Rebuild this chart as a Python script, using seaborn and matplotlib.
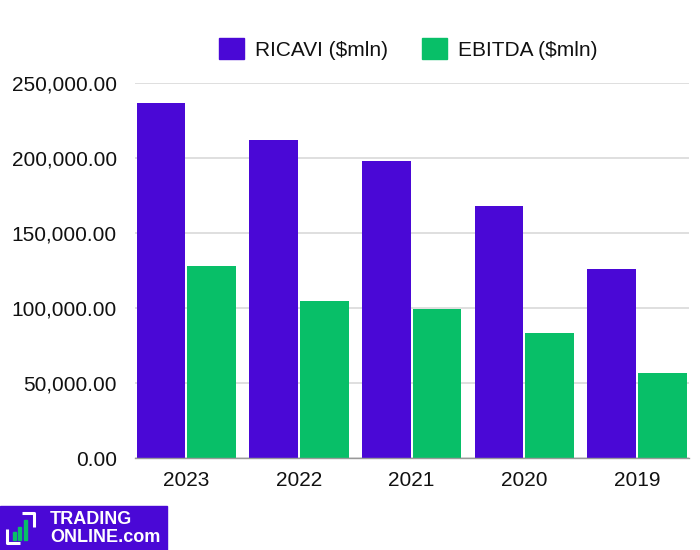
import numpy as np
import pandas as pd
import matplotlib
matplotlib.use('Agg')
import matplotlib.pyplot as plt
import seaborn as sns
from matplotlib.ticker import FuncFormatter
from matplotlib.patches import Rectangle

# Data
years = ['2023', '2022', '2021', '2020', '2019']
ricavi = [236300, 211600, 197800, 167600, 125600]
ebitda = [127600, 104700, 99100, 83100, 56900]
series_names = ['RICAVI ($mln)', 'EBITDA ($mln)']
colors = ['#4a08d6', '#08bf68']

df = pd.DataFrame({
    'Anno': years * 2,
    'Serie': [series_names[0]] * len(years) + [series_names[1]] * len(years),
    'Valore': ricavi + ebitda,
})

sns.set_theme(style='white')
plt.rcParams['font.family'] = ['Liberation Sans', 'DejaVu Sans']

fig = plt.figure(figsize=(7, 5.5), dpi=100)
ax = fig.add_axes([135 / 700, 1 - 458 / 550, 554 / 700, (458 - 82.5) / 550])

sns.barplot(data=df, x='Anno', y='Valore', hue='Serie', order=years,
            hue_order=series_names, palette=colors, width=0.9, gap=0.045,
            linewidth=0, saturation=1, ax=ax)

ax.set_ylim(0, 250000)
ax.set_xlim(-0.455, 4.461)
ax.set_yticks(np.arange(0, 250001, 50000))
ax.yaxis.set_major_formatter(FuncFormatter(lambda v, p: f'{v:,.2f}'))
ax.set_xlabel('')
ax.set_ylabel('')
ax.grid(axis='y', color='#d9d9d9', linewidth=1.2)
ax.set_axisbelow(True)
for s in ['top', 'right', 'left']:
    ax.spines[s].set_visible(False)
ax.spines['bottom'].set_color('#999999')
ax.spines['bottom'].set_linewidth(1.0)
ax.tick_params(axis='both', length=0, labelsize=15, colors='#111111')
ax.tick_params(axis='y', pad=13)
ax.tick_params(axis='x', pad=9)

# legend on top
ax.get_legend().remove()
handles = [Rectangle((0, 0), 1, 1, color=c) for c in colors]
fig.legend(handles, series_names, loc='center', bbox_to_anchor=(0.583, 0.911),
           ncol=2, frameon=False, fontsize=15, handlelength=1.2, handleheight=1.2,
           columnspacing=1.6, handletextpad=0.55, labelcolor='#111111')

# logo badge bottom-left
fig.patches.append(Rectangle((0, 0), 167 / 700, 44 / 550, transform=fig.transFigure,
                             color='#4a08d6', zorder=5))
def px(x, y):
    return x / 700, 1 - y / 550
lw = 2.2
for xs, ys in [([7, 7, 20], [529, 543, 543]), ([22, 34, 34], [513, 513, 527])]:
    fig.lines.append(plt.Line2D([x / 700 for x in xs], [1 - y / 550 for y in ys],
                                transform=fig.transFigure, color='white', lw=lw,
                                zorder=6, solid_capstyle='butt'))
for x0, top in [(13, 532), (18, 527), (24, 520)]:
    fig.patches.append(Rectangle(px(x0, 540), 3 / 700, (540 - top) / 550,
                                 transform=fig.transFigure, color='#08bf68', zorder=6))
fig.text(50 / 700, 1 - 519 / 550, 'TRADING', color='white', fontsize=13,
         fontweight='bold', va='center', ha='left', zorder=7)
fig.text(50 / 700, 1 - 538 / 550, 'ONLINE.com', color='white', fontsize=13,
         fontweight='bold', va='center', ha='left', zorder=7)

fig.savefig('out.png', dpi=100)
